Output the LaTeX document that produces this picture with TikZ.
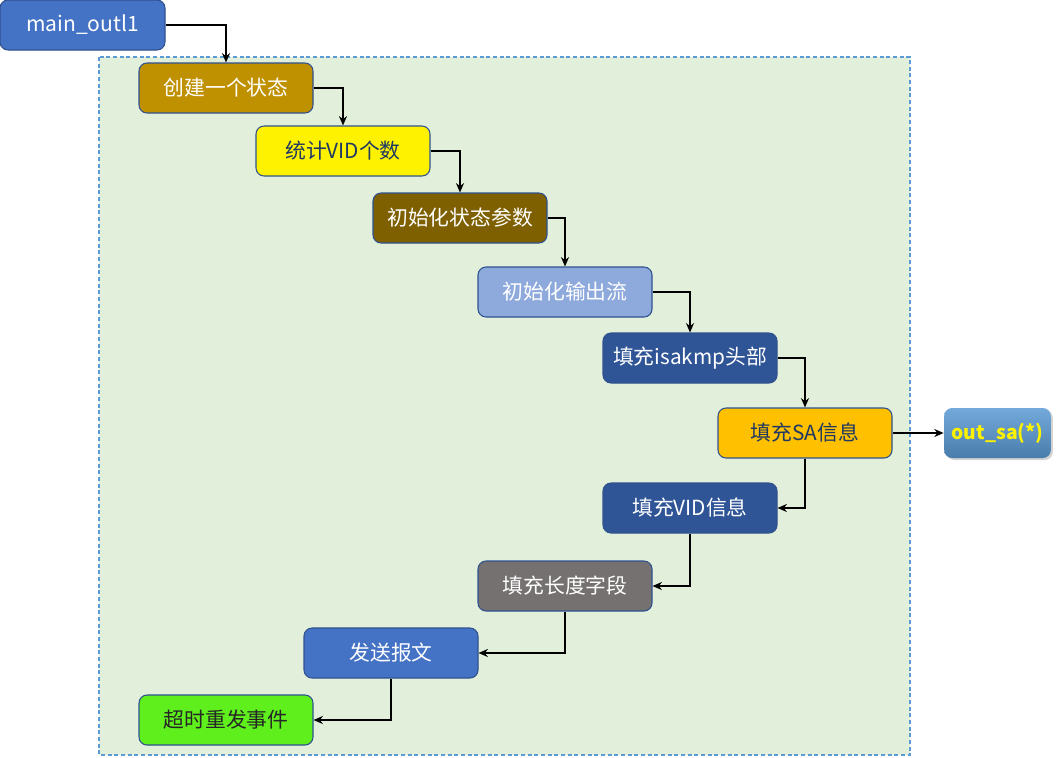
\documentclass[tikz,border=0pt]{standalone}
\usepackage{fontspec}
\setmainfont{Noto Sans CJK SC}
\usetikzlibrary{arrows.meta,shadows}
\definecolor{cblue}{HTML}{4472C4}
\definecolor{cblueb}{HTML}{2F528F}
\definecolor{cgold}{HTML}{BF9000}
\definecolor{cbrown}{HTML}{7F6000}
\definecolor{clight}{HTML}{8EA9DB}
\definecolor{cnavy}{HTML}{2F5597}
\definecolor{corange}{HTML}{FFC000}
\definecolor{cgrey}{HTML}{767171}
\definecolor{cgreen}{HTML}{5FEF1D}
\definecolor{cbg}{HTML}{E2EFDA}
\definecolor{cdash}{HTML}{5B9BD5}
\definecolor{ctextdark}{HTML}{1F3864}
\tikzset{
  box/.style={draw=cblueb, line width=0.8pt, rounded corners=6pt, minimum width=130.5pt, minimum height=37.5pt, inner sep=0pt, font=\fontsize{15.6}{17}\selectfont, text=white},
  conn/.style={draw=black, line width=1.4pt, -{Stealth[length=7pt,width=6pt]}},
}
\begin{document}
\begin{tikzpicture}[x=0.75pt,y=-0.75pt]
\useasboundingbox (0,0) rectangle (1059,757);
\draw[cdash, fill=cbg, dash pattern=on 3pt off 2pt, line width=0.8pt] (99,57) rectangle (910,755);
\node[box, fill=cblue, minimum width=123.75pt, font=\fontsize{15.8}{17}\selectfont] (main) at (82.5,25) {main\_outl1};
\node[box, fill=cgold] (a) at (226,88) {创建一个状态};
\node[box, fill=yellow, text=ctextdark] (b) at (343,151) {统计VID个数};
\node[box, fill=cbrown] (c) at (460,218) {初始化状态参数};
\node[box, fill=clight] (d) at (565,292) {初始化输出流};
\node[box, fill=cnavy] (e) at (690,358) {填充isakmp头部};
\node[box, fill=corange, text=ctextdark] (f) at (805,433) {填充SA信息};
\node[box, draw=none, top color=cdash!85!white, bottom color=cdash!80!black, minimum width=80pt, text=yellow, font=\fontsize{14.5}{16}\selectfont\bfseries, drop shadow={shadow xshift=1.5pt, shadow yshift=-1.5pt, opacity=0.35}] (g) at (997.5,433) {out\_sa(*)};
\node[box, fill=cnavy] (h) at (690,508) {填充VID信息};
\node[box, fill=cgrey] (i) at (565,586) {填充长度字段};
\node[box, fill=cblue] (j) at (391,653) {发送报文};
\node[box, fill=cgreen, text=black!85] (k) at (226,720) {超时重发事件};
\draw[conn] (main.east) -| (a.north);
\draw[conn] (a.east) -| (b.north);
\draw[conn] (b.east) -| (c.north);
\draw[conn] (c.east) -| (d.north);
\draw[conn] (d.east) -| (e.north);
\draw[conn] (e.east) -| (f.north);
\draw[conn] (f.east) -- (g.west);
\draw[conn] (f.south) |- (h.east);
\draw[conn] (h.south) |- (i.east);
\draw[conn] (i.south) |- (j.east);
\draw[conn] (j.south) |- (k.east);
\end{tikzpicture}
\end{document}
